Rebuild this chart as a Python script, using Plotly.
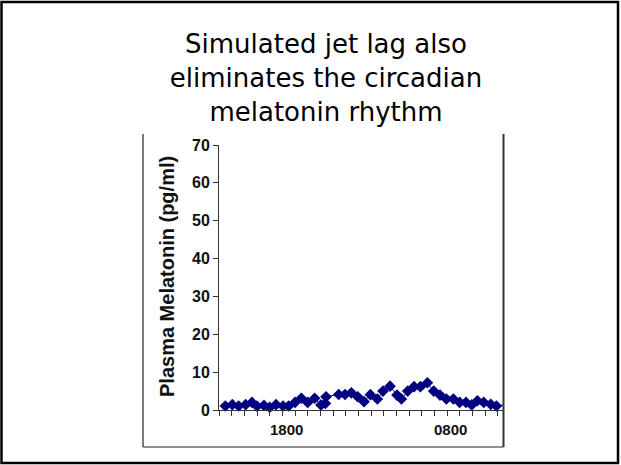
import plotly.graph_objects as go

# ---- data (x in axis tick units) ----
sample_pos = [0.5, 1.05, 1.55, 2.1, 2.6, 3.0, 3.55, 4.0, 4.5, 5.05,
              5.5, 6.0, 6.5, 7.0, 7.55, 8.05, 8.4, 8.45, 9.45, 9.95,
              10.45, 10.95, 11.45, 11.95, 12.5, 12.95, 13.5, 14.05, 14.4, 14.9,
              15.4, 15.9, 16.45, 16.95, 17.45, 17.95, 18.5, 19.0, 19.5, 19.95,
              20.4, 20.9, 21.45, 21.9, 22.45]
melatonin = [1.05, 1.4, 1.05, 1.4, 2.0, 1.0, 1.2, 0.7, 1.4, 1.05,
             1.05, 2.0, 3.1, 2.0, 3.1, 1.35, 1.75, 3.5, 4.1, 4.1,
             4.55, 3.5, 2.2, 4.05, 2.9, 5.0, 6.3, 3.95, 2.9, 5.0,
             6.15, 6.15, 7.2, 5.0, 3.95, 2.9, 2.9, 2.0, 2.0, 1.35,
             2.45, 2.0, 1.5, 1.05, 1.35]
x_tick_positions = list(range(0, 23))
x_label_text = ["1800", "0800"]
x_label_pos = [5.29, 18.26]
y_ticks = [0, 10, 20, 30, 40, 50, 60, 70]

W, H = 621, 465
L, R, T, B = 219, 503, 145, 410  # plot area in pixels


def px(xp):
    return (xp - L) / (R - L)


def py(yp):
    return (B - yp) / (B - T)


fig = go.Figure()
fig.add_trace(go.Scatter(
    x=sample_pos, y=melatonin, mode="lines+markers",
    line=dict(color="#000080", width=1),
    marker=dict(symbol="diamond", size=9, color="#000080"),
    cliponaxis=False, showlegend=False,
))

x_font = dict(family="Liberation Sans, Arial", size=15, color="#111111", weight="bold")
y_font = dict(family="Liberation Sans, Arial", size=16, color="#111111", weight="bold")

fig.update_layout(
    width=W, height=H,
    margin=dict(l=L, r=W - R, t=T, b=H - B, pad=0),
    paper_bgcolor="white", plot_bgcolor="white",
    title=dict(
        text="Simulated jet lag also<br>eliminates the circadian<br>melatonin rhythm",
        font=dict(family="DejaVu Sans", size=26, color="black"),
        x=326 / W, xref="container", xanchor="center",
        y=1 - 53 / H, yref="container", yanchor="top",
    ),
    xaxis=dict(
        range=[0, 22.42], showgrid=False, zeroline=False,
        showline=True, linecolor="#333333", linewidth=1,
        tickmode="array", tickvals=x_tick_positions, ticks="outside",
        ticklen=5, tickcolor="#333333", showticklabels=False,
    ),
    yaxis=dict(
        range=[0, 70], showgrid=False, zeroline=False,
        showline=True, linecolor="#333333", linewidth=1,
        tickmode="array", tickvals=y_ticks, ticks="outside",
        ticklen=5, tickcolor="#333333", tickfont=y_font,
    ),
)

for t, p in zip(x_label_text, x_label_pos):
    fig.add_annotation(x=p, xref="x", y=py(429), yref="paper", text=t,
                       showarrow=False, font=x_font, xanchor="center", yanchor="middle")

fig.add_annotation(x=px(167), xref="paper", y=py(277), yref="paper",
                   text="Plasma Melatonin (pg/ml)", textangle=-90,
                   showarrow=False, xanchor="center", yanchor="middle",
                   font=dict(family="Liberation Sans, Arial", size=20, color="#111111", weight="bold"))

# outer slide border
fig.add_shape(type="rect", xref="paper", yref="paper",
              x0=px(1.5), x1=px(618), y0=py(463), y1=py(2),
              line=dict(color="black", width=2.5), layer="below")
# chart object frame (left, right, bottom)
fig.add_shape(type="line", xref="paper", yref="paper", x0=px(143), x1=px(143),
              y0=py(134), y1=py(447), line=dict(color="#222222", width=1.2))
fig.add_shape(type="line", xref="paper", yref="paper", x0=px(503.5), x1=px(503.5),
              y0=py(134), y1=py(447), line=dict(color="#333333", width=2))
fig.add_shape(type="line", xref="paper", yref="paper", x0=px(143), x1=px(503.5),
              y0=py(447), y1=py(447), line=dict(color="#222222", width=1.2))

fig.write_html("out.html")
